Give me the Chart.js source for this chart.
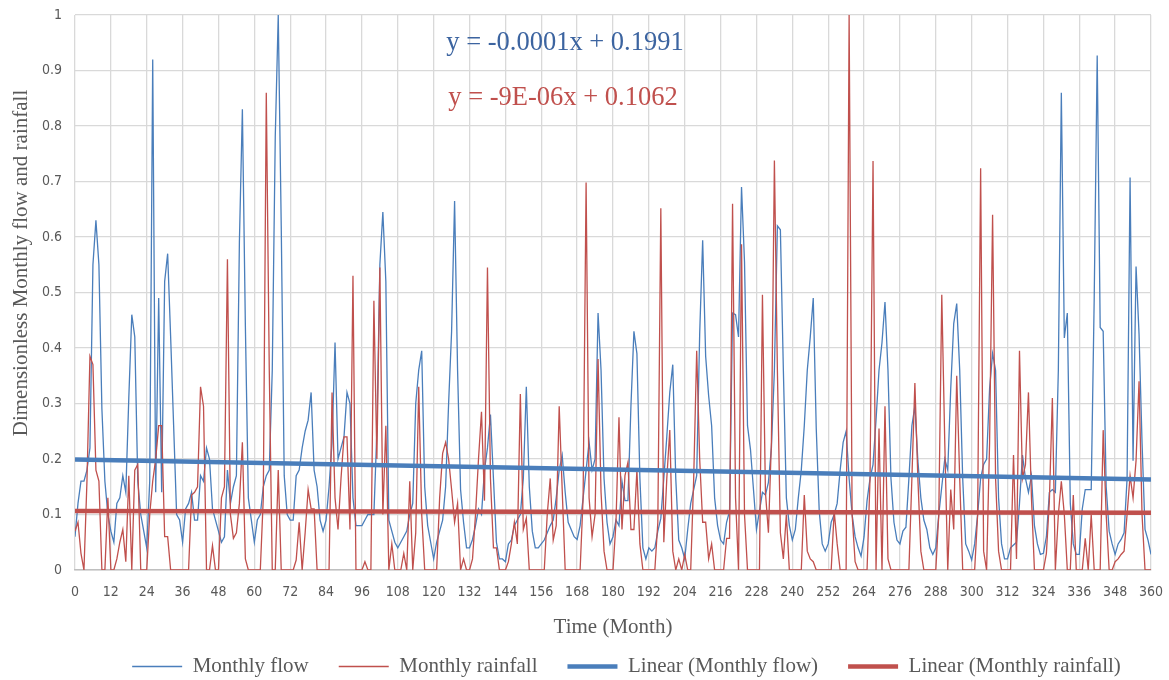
<!DOCTYPE html>
<html><head><meta charset="utf-8">
<script src="https://cdn.jsdelivr.net/npm/chart.js@4.4.1/dist/chart.umd.min.js"></script>
<style>html,body{margin:0;padding:0;background:#fff;}#wrap{width:1169px;height:680px;}</style>
</head><body><div id="wrap"><canvas id="c" width="1169" height="680"></canvas></div>
<script>
// Month index 0..360
const months = Array.from({length: 361}, (_, i) => i);

// Dimensionless monthly flow
const monthlyFlow = [
0.06,0.12,0.16,0.16,0.18,0.22,0.55,0.63,0.55,0.29,0.16,0.10,0.07,0.05,0.12,0.13,0.17,0.14,0.31,0.46,
0.42,0.16,0.10,0.07,0.04,0.16,0.92,0.14,0.49,0.14,0.52,0.57,0.42,0.26,0.10,0.09,0.05,0.11,0.12,0.14,
0.09,0.09,0.17,0.16,0.22,0.20,0.11,0.09,0.07,0.05,0.06,0.18,0.12,0.15,0.17,0.59,0.83,0.44,0.13,0.09,
0.05,0.09,0.10,0.15,0.17,0.18,0.36,0.78,1.00,0.62,0.17,0.10,0.09,0.09,0.17,0.18,0.22,0.25,0.27,0.32,
0.18,0.15,0.09,0.07,0.09,0.15,0.23,0.41,0.20,0.22,0.24,0.32,0.30,0.13,0.08,0.08,0.08,0.09,0.10,0.10,
0.10,0.25,0.55,0.645,0.52,0.09,0.07,0.05,0.04,0.05,0.06,0.07,0.10,0.12,0.30,0.36,0.395,0.15,0.08,0.05,
0.02,0.05,0.07,0.09,0.15,0.30,0.43,0.665,0.36,0.145,0.086,0.04,0.04,0.055,0.08,0.11,0.10,0.18,0.22,0.28,
0.165,0.05,0.02,0.02,0.015,0.047,0.054,0.08,0.09,0.10,0.165,0.33,0.15,0.07,0.04,0.04,0.047,0.054,0.067,0.08,
0.09,0.13,0.18,0.207,0.14,0.086,0.073,0.06,0.055,0.08,0.13,0.18,0.23,0.18,0.20,0.463,0.36,0.165,0.086,0.047,
0.06,0.09,0.08,0.16,0.125,0.125,0.295,0.43,0.39,0.165,0.04,0.02,0.04,0.034,0.04,0.07,0.093,0.165,0.24,0.32,
0.37,0.165,0.054,0.04,0.02,0.073,0.12,0.145,0.17,0.425,0.594,0.385,0.314,0.26,0.13,0.08,0.054,0.047,0.086,0.106,
0.463,0.46,0.42,0.69,0.555,0.26,0.217,0.145,0.073,0.106,0.14,0.135,0.158,0.22,0.36,0.62,0.613,0.36,0.13,0.08,
0.054,0.073,0.13,0.18,0.26,0.36,0.42,0.49,0.255,0.106,0.047,0.034,0.047,0.086,0.10,0.12,0.18,0.23,0.25,0.165,
0.10,0.06,0.04,0.025,0.06,0.125,0.165,0.19,0.27,0.36,0.41,0.483,0.36,0.165,0.086,0.054,0.047,0.07,0.077,0.165,
0.26,0.295,0.197,0.13,0.09,0.073,0.04,0.028,0.04,0.10,0.15,0.20,0.18,0.327,0.444,0.48,0.36,0.165,0.047,0.034,
0.018,0.047,0.10,0.165,0.19,0.20,0.327,0.39,0.36,0.13,0.047,0.02,0.02,0.04,0.045,0.05,0.12,0.207,0.165,0.14,
0.17,0.08,0.047,0.028,0.03,0.06,0.14,0.145,0.14,0.36,0.86,0.418,0.463,0.12,0.047,0.028,0.028,0.11,0.145,0.145,
0.145,0.49,0.927,0.437,0.43,0.15,0.07,0.047,0.028,0.047,0.055,0.067,0.165,0.707,0.197,0.547,0.425,0.23,0.073,0.054,
0.028
];

// Dimensionless monthly rainfall
const monthlyRainfall = [
0.07,0.086,0.03,0,0.16,0.385,0.37,0.18,0.16,0,0,0.13,0,0,0.02,0.05,0.073,0.015,0.17,0,
0.18,0.19,0,0,0,0.10,0.16,0.20,0.26,0.26,0.06,0.06,0,0,0,0,0,0,0,0.135,
0.14,0.15,0.33,0.295,0,0,0.044,0,0,0.13,0.15,0.56,0.10,0.057,0.067,0.12,0.23,0.02,0,0,
0,0,0,0.13,0.86,0.36,0,0,0.18,0,0,0,0,0,0.018,0.086,0,0.067,0.145,0.11,
0.11,0,0,0,0,0,0.32,0.13,0.073,0.165,0.24,0.24,0.073,0.53,0,0,0,0.015,0,0,
0.485,0.20,0.545,0.10,0.26,0,0.047,0,0,0,0.03,0,0.16,0,0.067,0.33,0.10,0,0,0,
0,0,0.13,0.21,0.23,0.20,0.145,0.086,0.12,0,0.02,0,0,0.02,0.10,0.20,0.285,0.125,0.545,0.165,
0.04,0.04,0,0,0,0.015,0.047,0.086,0.047,0.317,0.073,0.093,0,0,0,0,0,0,0.10,0.165,
0.054,0.08,0.295,0.145,0,0,0,0,0,0,0.13,0.698,0.13,0.06,0.10,0.38,0.14,0.034,0,0,
0,0.086,0.275,0.073,0.17,0.194,0.073,0.073,0.18,0.047,0,0,0,0,0,0.086,0.652,0.05,0.165,0.252,
0.034,0,0.02,0,0.028,0,0,0.165,0.395,0.20,0.086,0.086,0.02,0.047,0,0,0,0,0.057,0.057,
0.66,0.13,0,0.587,0.10,0,0,0,0,0,0.496,0.14,0.067,0.23,0.738,0.36,0.067,0.02,0.10,0,
0,0,0,0,0.135,0.034,0.02,0.015,0,0,0,0,0,0,0.106,0.047,0,0,0,1.00,
0.10,0.015,0,0,0,0,0.165,0.737,0,0.255,0,0.295,0.02,0,0,0,0,0,0,0,
0.165,0.337,0.165,0.034,0,0,0,0,0,0.10,0.496,0.23,0,0.145,0.073,0.35,0.165,0,0,0,
0,0,0.10,0.724,0.034,0,0.23,0.64,0.165,0.034,0,0,0,0,0.207,0.02,0.395,0.165,0.19,0.32,
0.13,0,0,0,0,0.03,0.125,0.31,0,0.10,0.16,0.10,0,0,0.135,0,0,0,0.057,0,
0.10,0,0,0,0.252,0.10,0,0,0.015,0.02,0.028,0.034,0.10,0.17,0.13,0.197,0.34,0.10,0,0,
0
];

// Linear trend coefficients (as printed on the chart)
const flowTrend = {slope: -0.0001, intercept: 0.1991};
const rainTrend = {slope: -0.000009, intercept: 0.1062};
const trendX = [0, 360];

const xTicks = [0,12,24,36,48,60,72,84,96,108,120,132,144,156,168,180,192,204,216,228,240,252,264,276,288,300,312,324,336,348,360];
const yTicks = ['0','0.1','0.2','0.3','0.4','0.5','0.6','0.7','0.8','0.9','1'];

const seriesNames = ['Monthly flow','Monthly rainfall','Linear (Monthly flow)','Linear (Monthly rainfall)'];
const yTitle = 'Dimensionless Monthly flow and rainfall';
const xTitle = 'Time (Month)';
const eqFlow = 'y = -0.0001x + 0.1991';
const eqRain = 'y = -9E-06x + 0.1062';

const BLUE = '#4A7EBB';
const RED = '#C0504D';
const SERIF = '"Liberation Serif", "Times New Roman", serif';
const NARROW = '"Liberation Sans Narrow", "DejaVu Sans Condensed", "Arial Narrow", sans-serif';

const toXY = arr => arr.map((v, i) => ({x: months[i], y: v}));
const trendPts = t => trendX.map(x => ({x, y: t.intercept + t.slope * x}));

const textPlugin = {
  id: 'extraText',
  afterLayout(chart) {
    // centre the legend row like the reference (slightly right of canvas centre)
    const lg = chart.legend;
    if (lg) { lg.left += 51; lg.right += 51; }
  },
  afterDraw(chart) {
    const ctx = chart.ctx;
    ctx.save();
    ctx.textAlign = 'center';
    ctx.textBaseline = 'middle';
    ctx.font = '26.5px ' + SERIF;
    ctx.fillStyle = '#3C64A0';
    ctx.fillText(eqFlow, 565, 43);
    ctx.fillStyle = RED;
    ctx.fillText(eqRain, 563, 98);
    // y axis title
    ctx.translate(21, 263);
    ctx.rotate(-Math.PI / 2);
    ctx.font = '21px ' + SERIF;
    ctx.fillStyle = '#595959';
    ctx.fillText(yTitle, 0, 0);
    ctx.restore();
  }
};

new Chart(document.getElementById('c'), {
  type: 'line',
  data: {
    datasets: [
      {label: seriesNames[0], data: toXY(monthlyFlow), borderColor: BLUE, backgroundColor: BLUE, borderWidth: 1.3, pointRadius: 0, pointStyle: 'line', tension: 0, order: 4},
      {label: seriesNames[1], data: toXY(monthlyRainfall), borderColor: RED, backgroundColor: RED, borderWidth: 1.3, pointRadius: 0, pointStyle: 'line', tension: 0, order: 3},
      {label: seriesNames[2], data: trendPts(flowTrend), borderColor: BLUE, backgroundColor: BLUE, borderWidth: 4.5, pointRadius: 0, pointStyle: 'line', tension: 0, order: 2},
      {label: seriesNames[3], data: trendPts(rainTrend), borderColor: RED, backgroundColor: RED, borderWidth: 4.5, pointRadius: 0, pointStyle: 'line', tension: 0, order: 1}
    ]
  },
  options: {
    responsive: false,
    animation: false,
    devicePixelRatio: 1,
    layout: {padding: {left: 0, right: 18, top: 15, bottom: 0}},
    plugins: {
      tooltip: {enabled: false},
      legend: {
        position: 'bottom',
        maxHeight: 54,
        labels: {
          usePointStyle: true,
          pointStyleWidth: 50,
          boxHeight: 21,
          padding: 30,
          color: '#595959',
          font: {family: SERIF, size: 21},
          sort: (a, b) => a.datasetIndex - b.datasetIndex
        }
      }
    },
    scales: {
      x: {
        type: 'linear', min: 0, max: 360,
        afterBuildTicks: s => { s.ticks = xTicks.map(v => ({value: v})); },
        afterFit: s => { s.height = 56; s.paddingLeft = 0; s.paddingRight = 0; },
        grid: {color: '#D9D9D9', lineWidth: 1.3, drawTicks: false},
        border: {color: '#BFBFBF', width: 1.5},
        ticks: {padding: 14, color: '#595959', font: {family: NARROW, size: 14}, maxRotation: 0, autoSkip: false},
        title: {display: true, text: xTitle, color: '#595959', font: {family: SERIF, size: 21}, padding: {top: 0, bottom: -14}}
      },
      y: {
        min: 0, max: 1,
        afterBuildTicks: s => { s.ticks = yTicks.map((t, i) => ({value: i / 10})); },
        afterFit: s => { s.width = 75; s.paddingTop = 0; s.paddingBottom = 0; },
        grid: {color: '#D9D9D9', lineWidth: 1.3, drawTicks: false},
        border: {display: false},
        ticks: {padding: 13, color: '#595959', font: {family: NARROW, size: 14}, callback: (v, i) => yTicks[i]}
      }
    }
  },
  plugins: [textPlugin]
});
</script></body></html>
